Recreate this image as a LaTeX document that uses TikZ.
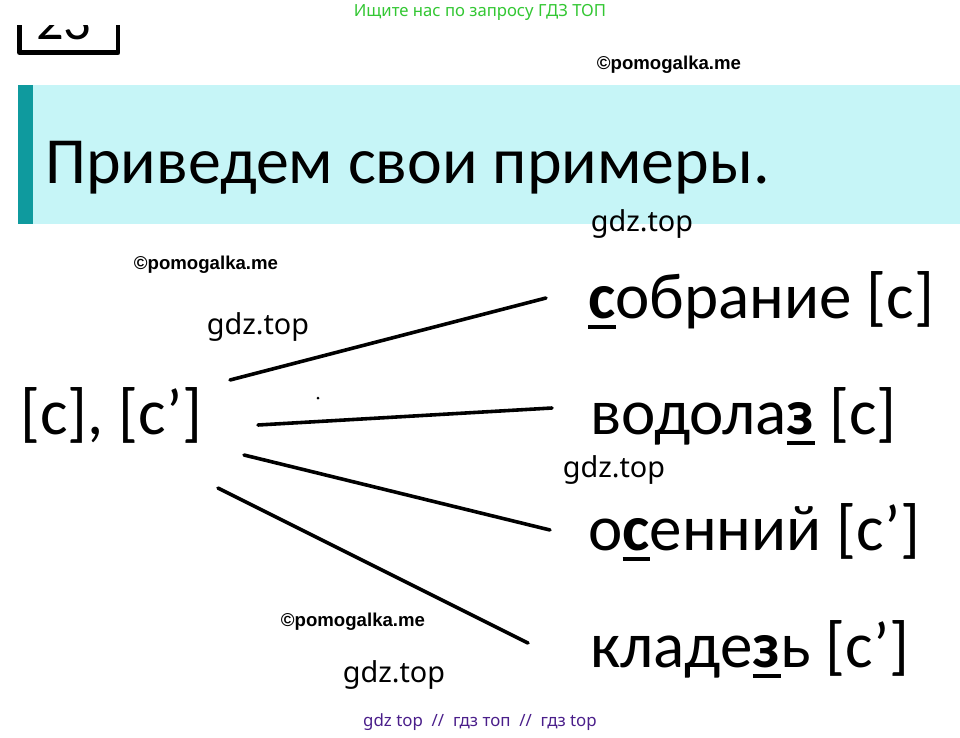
\documentclass[tikz,border=0pt]{standalone}
\usepackage{fontspec}
\setmainfont{Carlito}
\newfontfamily\wmfont{Noto Sans}
\newfontfamily\wmbold{Liberation Sans}
\usepackage{xcolor}
\definecolor{barcyan}{HTML}{C6F5F7}
\definecolor{barteal}{HTML}{0F9A9E}
\definecolor{wmgreen}{HTML}{33C733}
\definecolor{wmpurple}{HTML}{4A1E8A}
\newcommand\ulb[1]{\setbox0\hbox{\bfseries#1}\rlap{\rule[-0.17em]{\wd0}{0.07em}}\box0\relax}
\tikzset{
  every picture/.style={line cap=round,line join=round},
  word/.style={anchor=base west, inner sep=0pt, font=\fontsize{37}{42}\selectfont},
  gdz/.style={inner sep=0pt, font=\wmfont\fontsize{16.4}{20}\selectfont},
  pomo/.style={inner sep=0pt, font=\wmbold\bfseries\fontsize{10.6}{12}\selectfont},
  link/.style={line width=3.6pt*0.567},
}
\begin{document}
\begin{tikzpicture}[x=0.02cm, y=-0.02cm]
    \useasboundingbox (0,0) rectangle (960,737);
    % номер задания
    \node[anchor=base west, inner sep=0pt, font=\fontsize{31}{36}\selectfont] (num) at (36,39) {23};
    \draw[line width=5*0.567pt, line cap=butt] (19.5,20) -- (19.5,52.5) -- (118,52.5) -- (118,20);
    \fill[white] (0,0) rectangle (960,25);
    % заголовок
    \fill[barcyan] (18,85) rectangle (960,224);
    \fill[barteal] (18,85) rectangle (33,224);
    \node[anchor=base west, inner sep=0pt, font=\fontsize{37.5}{44}\selectfont] (title) at (45,183) {Приведем свои примеры.};
    % звуки и примеры
    \node[word] (snd) at (20,434) {[с], [с’]};
    \node[word] (w1) at (588,318) {\ulb{с}обрание [с]};
    \node[word] (w2) at (590,434) {водола\ulb{з} [с]};
    \node[word] (w3) at (588,550) {о\ulb{с}енний [с’]};
    \node[word] (w4) at (590,667) {кладе\ulb{з}ь [с’]};
    % концы линий
    \coordinate (a1) at (230,380); \coordinate (b1) at (546,298);
    \coordinate (a2) at (258,425); \coordinate (b2) at (552,408);
    \coordinate (a3) at (244,455); \coordinate (b3) at (550,530);
    \coordinate (a4) at (218,488); \coordinate (b4) at (528,643);
    \foreach \i in {1,...,4}{%
      \draw[link] (a\i) -- (b\i);
    }
    \fill (318,398) circle (1.5);
    % водяные знаки
    \node[inner sep=0pt, font=\wmfont\fontsize{9.5}{11}\selectfont, text=wmgreen] (top) at (480,12) {Ищите нас по запросу ГДЗ ТОП};
    \node[pomo] (p1) at (669,65) {©pomogalka.me};
    \node[pomo] (p2) at (206,265) {©pomogalka.me};
    \node[pomo] (p3) at (353,622) {©pomogalka.me};
    \node[gdz] (g1) at (642,224) {gdz.top};
    \node[gdz] (g2) at (258,327) {gdz.top};
    \node[gdz] (g3) at (614,470) {gdz.top};
    \node[gdz] (g4) at (394,675) {gdz.top};
    \node[inner sep=0pt, font=\wmfont\fontsize{9.6}{12}\selectfont, text=wmpurple] (bot) at (480,722) {gdz top \ // \ гдз топ \ // \ гдз top};
\end{tikzpicture}
\end{document}
